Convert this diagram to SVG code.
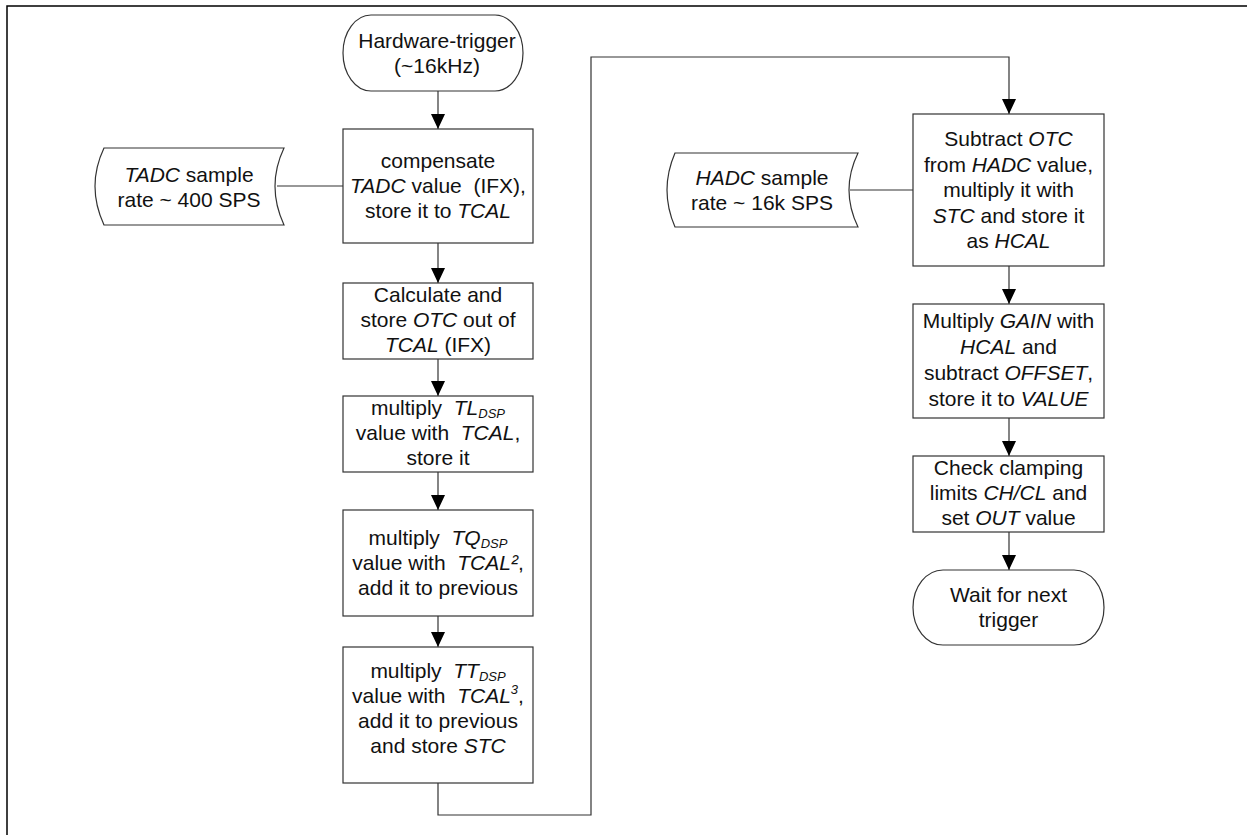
<svg xmlns="http://www.w3.org/2000/svg" width="1247" height="835" viewBox="0 0 1247 835">
<style>
.sh{fill:#fff;stroke:#333;stroke-width:1.2}
.cn{fill:none;stroke:#333;stroke-width:1.2}
.t{font-family:"Liberation Sans",Arial,sans-serif;font-size:21px;fill:#111;text-anchor:middle}
.i{font-style:italic}
.sub{font-size:13px;font-style:italic}
</style>
<defs>
<marker id="arr" markerWidth="15" markerHeight="14" refX="15" refY="7" orient="auto" markerUnits="userSpaceOnUse">
<path d="M0,0 L15,7 L0,14 z" fill="#000"/>
</marker>
</defs>
<rect width="1247" height="835" fill="#fff"/>
<path d="M7,835 V6 H1247" fill="none" stroke="#000" stroke-width="1.5"/>

<g id="connectors">
<path class="cn" d="M438,91 V129" marker-end="url(#arr)"/>
<path class="cn" d="M277,186 H343"/>
<path class="cn" d="M438,243 V283" marker-end="url(#arr)"/>
<path class="cn" d="M438,359 V396" marker-end="url(#arr)"/>
<path class="cn" d="M438,472 V510" marker-end="url(#arr)"/>
<path class="cn" d="M438,616 V647" marker-end="url(#arr)"/>
<path class="cn" d="M438,783 V815 H591 V57 H1009 V114" marker-end="url(#arr)"/>
<path class="cn" d="M850,190 H913"/>
<path class="cn" d="M1009,266 V304" marker-end="url(#arr)"/>
<path class="cn" d="M1009,418 V456" marker-end="url(#arr)"/>
<path class="cn" d="M1009,532 V570" marker-end="url(#arr)"/>
</g>

<g id="start">
<rect class="sh" x="343" y="15" width="180" height="76" rx="28" ry="38"/>
<text class="t" x="437" y="48">Hardware-trigger</text>
<text class="t" x="437" y="73">(~16kHz)</text>
</g>

<g id="tadc">
<path class="sh" d="M104,148 L284,148 Q266,186 284,225 L104,225 Q86,186 104,148 Z"/>
<text class="t" x="189" y="182"><tspan class="i">TADC</tspan> sample</text>
<text class="t" x="189" y="207">rate ~ 400 SPS</text>
</g>

<g id="box1">
<rect class="sh" x="343" y="129" width="190" height="114"/>
<text class="t" x="438" y="168">compensate</text>
<text class="t" x="438" y="193"><tspan class="i">TADC</tspan> value&#160;&#160;(IFX),</text>
<text class="t" x="438" y="218">store it to <tspan class="i">TCAL</tspan></text>
</g>

<g id="box2">
<rect class="sh" x="343" y="283" width="190" height="76"/>
<text class="t" x="438" y="302">Calculate and</text>
<text class="t" x="438" y="327">store <tspan class="i">OTC</tspan> out of</text>
<text class="t" x="438" y="352"><tspan class="i">TCAL</tspan> (IFX)</text>
</g>

<g id="box3">
<rect class="sh" x="343" y="396" width="190" height="76"/>
<text class="t" x="438" y="415">multiply&#160;&#160;<tspan class="i">TL</tspan><tspan class="sub" dy="3">DSP</tspan></text>
<text class="t" x="438" y="440">value with&#160;&#160;<tspan class="i">TCAL</tspan>,</text>
<text class="t" x="438" y="465">store it</text>
</g>

<g id="box4">
<rect class="sh" x="343" y="510" width="190" height="106"/>
<text class="t" x="438" y="545">multiply&#160;&#160;<tspan class="i">TQ</tspan><tspan class="sub" dy="3">DSP</tspan></text>
<text class="t" x="438" y="570">value with&#160;&#160;<tspan class="i">TCAL²</tspan>,</text>
<text class="t" x="438" y="595">add it to previous</text>
</g>

<g id="box5">
<rect class="sh" x="343" y="647" width="190" height="136"/>
<text class="t" x="438" y="678">multiply&#160;&#160;<tspan class="i">TT</tspan><tspan class="sub" dy="3">DSP</tspan></text>
<text class="t" x="438" y="703">value with&#160;&#160;<tspan class="i">TCAL</tspan><tspan class="sub" dy="-9">3</tspan><tspan dy="9">,</tspan></text>
<text class="t" x="438" y="728">add it to previous</text>
<text class="t" x="438" y="753">and store <tspan class="i">STC</tspan></text>
</g>

<g id="hadc">
<path class="sh" d="M675,153 L858,153 Q840,190 858,227 L675,227 Q659,190 675,153 Z"/>
<text class="t" x="762" y="185"><tspan class="i">HADC</tspan> sample</text>
<text class="t" x="762" y="210">rate ~ 16k SPS</text>
</g>

<g id="box6">
<rect class="sh" x="913" y="114" width="191" height="152"/>
<text class="t" x="1008.5" y="146">Subtract <tspan class="i">OTC</tspan></text>
<text class="t" x="1008.5" y="171.5">from <tspan class="i">HADC</tspan> value,</text>
<text class="t" x="1008.5" y="197">multiply it with</text>
<text class="t" x="1008.5" y="222.5"><tspan class="i">STC</tspan> and store it</text>
<text class="t" x="1008.5" y="248">as <tspan class="i">HCAL</tspan></text>
</g>

<g id="box7">
<rect class="sh" x="913" y="304" width="191" height="114"/>
<text class="t" x="1008.5" y="328">Multiply <tspan class="i">GAIN</tspan> with</text>
<text class="t" x="1008.5" y="354"><tspan class="i">HCAL</tspan> and</text>
<text class="t" x="1008.5" y="380">subtract <tspan class="i">OFFSET</tspan>,</text>
<text class="t" x="1008.5" y="406">store it to <tspan class="i">VALUE</tspan></text>
</g>

<g id="box8">
<rect class="sh" x="913" y="456" width="191" height="76"/>
<text class="t" x="1008.5" y="475">Check clamping</text>
<text class="t" x="1008.5" y="500">limits <tspan class="i">CH/CL</tspan> and</text>
<text class="t" x="1008.5" y="525">set <tspan class="i">OUT</tspan> value</text>
</g>

<g id="end">
<rect class="sh" x="913" y="570" width="191" height="75" rx="30" ry="37.5"/>
<text class="t" x="1008.5" y="602">Wait for next</text>
<text class="t" x="1008.5" y="627">trigger</text>
</g>
</svg>
